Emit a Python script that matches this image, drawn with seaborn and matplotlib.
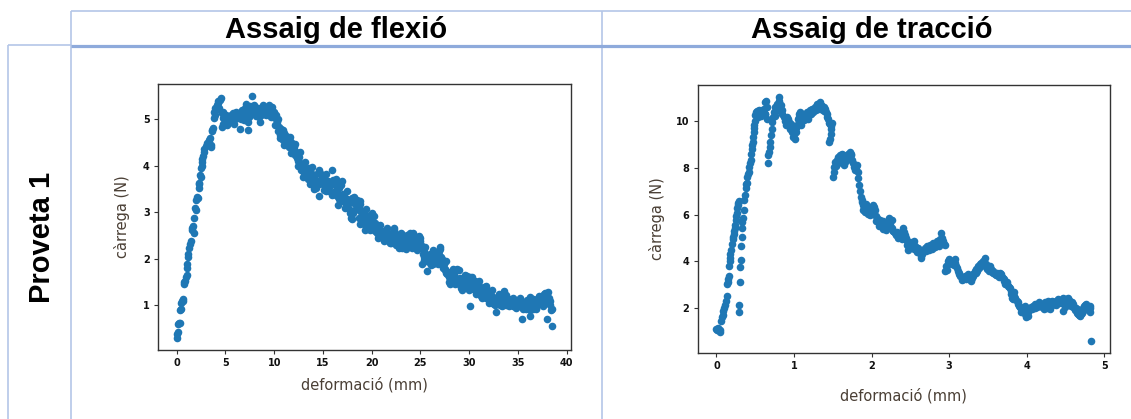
import matplotlib
matplotlib.use("Agg")
import matplotlib.pyplot as plt
from matplotlib.lines import Line2D
import seaborn as sns
import pandas as pd

# ---------------- data ----------------
XLABEL = "deformació (mm)"
YLABEL = "càrrega (N)"
col_titles = ["Assaig de flexió", "Assaig de tracció"]
row_title = "Proveta 1"

flex_rise = [(0.0,0.30),(0.05,0.38),(0.1,0.42),(0.12,0.60),(0.2,0.61),(0.3,0.62),(0.35,0.89),(0.4,0.92),(0.45,1.05),(0.5,1.10),(0.6,1.14),(0.65,1.10),(0.7,1.47),(0.78,1.50),(0.86,1.53),(0.96,1.60),(1.0,1.65),(1.03,1.81),(1.1,1.9),(1.13,2.03),(1.2,2.1),(1.27,2.24),(1.37,2.33),(1.44,2.38),(1.54,2.67),(1.6,2.63),(1.71,2.70),(1.75,2.55),(1.78,2.88),(1.88,3.10),(1.95,3.05),(1.99,3.27),(2.12,3.33),(2.2,3.30),(2.23,3.52),(2.3,3.6),(2.33,3.63),(2.40,3.81),(2.45,3.75),(2.50,3.95),(2.55,4.0),(2.57,4.09),(2.62,4.15),(2.67,4.22),(2.75,4.30),(2.84,4.37),(3.01,4.42),(3.1,4.5),(3.25,4.49),(3.30,4.56),(3.36,4.59),(3.49,4.45),(3.55,4.40),(3.6,4.74),(3.65,4.78),(3.70,4.81),(3.77,5.02),(3.84,5.16),(3.9,5.10),(3.94,5.24),(4.0,5.20),(4.11,5.31),(4.2,5.35),(4.28,5.39),(4.38,5.24),(4.45,5.42),(4.52,5.45),(4.62,5.13),(4.62,4.84),(4.7,5.15),(4.79,5.02),(4.79,4.89),(4.97,4.99)]
flex_plateau = [(5.05,5.10),(5.14,4.88),(5.2,4.95),(5.31,5.06),(5.4,4.98),(5.48,4.95),(5.55,5.10),(5.65,5.02),(5.75,4.95),(5.82,5.13),(5.89,4.91),(5.95,5.05),(6.10,5.16),(6.15,5.02),(6.23,5.02),(6.30,5.12),(6.44,4.79),(6.51,5.09),(6.6,5.00),(6.68,5.20),(6.75,5.12),(6.85,5.06),(6.9,4.98),(7.02,5.24),(7.08,5.10),(7.12,5.34),(7.2,5.18),(7.26,4.95),(7.36,4.77),(7.4,5.05),(7.47,5.16),(7.55,5.28),(7.7,5.50),(7.71,5.27),(7.8,5.20),(7.88,5.13),(7.95,5.30),(8.05,5.24),(8.1,5.08),(8.22,5.16),(8.3,5.25),(8.39,5.06),(8.45,5.15),(8.56,4.95),(8.65,5.10),(8.73,5.20),(8.8,5.12),(8.9,5.31),(9.0,5.18),(9.08,5.24),(9.15,5.10),(9.25,5.13),(9.35,5.22),(9.42,5.31),(9.5,5.15),(9.59,5.20),(9.65,5.05),(9.76,5.27),(9.85,5.12),(9.93,5.16),(10.03,5.02),(10.10,4.88),(10.15,5.10),(10.27,4.95),(10.34,4.74),(10.40,5.00)]
flex_decline = [(10.45,4.84),(10.55,4.60),(10.62,4.66),(10.7,4.80),(10.79,4.74),(10.85,4.55),(10.96,4.59),(11.05,4.70),(11.13,4.66),(11.2,4.50),(11.3,4.52),(11.4,4.62),(11.47,4.56),(11.55,4.40),(11.64,4.45),(11.72,4.52),(11.81,4.42),(11.9,4.30),(11.99,4.34),(12.08,4.40),(12.16,4.24),(12.25,4.30),(12.33,4.17),(12.42,4.10),(12.5,4.09),(12.58,4.18),(12.67,4.02),(12.75,3.90),(12.84,3.99),(12.92,4.05),(13.01,3.92),(13.1,3.85),(13.18,3.95),(13.25,3.80),(13.36,3.84),(13.45,3.72),(13.53,3.87),(13.6,3.95),(13.7,3.77),(13.8,3.85),(13.87,3.70),(13.95,3.80),(14.04,3.74),(14.1,3.50),(14.21,3.81),(14.32,3.52),(14.38,3.67),(14.45,3.85),(14.55,3.60),(14.6,3.36),(14.73,3.84),(14.8,3.70),(14.9,3.74),(15.0,3.62),(15.07,3.60),(15.15,3.75),(15.24,3.63),(15.3,3.45),(15.41,3.52),(15.5,3.68),(15.58,3.45),(15.65,3.55),(15.75,3.60),(15.92,3.90),(16.0,3.70),(16.10,3.60),(16.2,3.40),(16.27,3.45),(16.35,3.58),(16.44,3.35),(16.5,3.15),(16.61,3.52),(16.7,3.62),(16.78,3.38),(16.85,3.25),(16.95,3.67),(17.05,3.40),(17.12,3.24),(17.2,3.35),(17.29,3.31),(17.4,3.15),(17.5,3.28),(17.64,3.20),(17.72,3.08),(17.81,2.99),(17.9,2.88),(17.98,3.31),(17.98,2.85)]
flex_mid = [(18.15,3.20),(18.25,3.05),(18.35,3.15),(18.49,3.27),(18.55,3.10),(18.66,3.10),(18.77,2.74),(18.84,3.17),(18.92,3.00),(19.01,3.02),(19.1,2.90),(19.18,2.74),(19.25,2.85),(19.35,2.63),(19.45,2.95),(19.52,2.81),(19.6,2.70),(19.69,2.74),(19.8,2.62),(19.86,2.88),(20.03,2.99),(20.1,2.80),(20.21,2.70),(20.3,2.78),(20.38,2.60),(20.45,2.68),(20.55,2.56),(20.7,2.62),(20.8,2.48),(20.89,2.49),(21.0,2.55),(21.06,2.60),(21.15,2.48),(21.23,2.42),(21.3,2.55),(21.4,2.53),(21.5,2.40),(21.58,2.45),(21.65,2.55),(21.75,2.49),(21.85,2.35),(21.92,2.42),(22.0,2.50),(22.09,2.56),(22.2,2.45),(22.26,2.67),(22.35,2.55),(22.43,2.38),(22.5,2.30),(22.6,2.49),(22.7,2.35),(22.77,2.42),(22.85,2.50),(22.95,2.31),(23.05,2.40),(23.12,2.24),(23.2,2.30),(23.29,2.35),(23.38,2.28),(23.46,2.45),(23.55,2.30),(23.63,2.42),(23.72,2.35),(23.8,2.49),(23.9,2.38),(23.97,2.56),(24.05,2.45),(24.14,2.38),(24.25,2.30),(24.32,2.49),(24.4,2.42),(24.49,2.35),(24.57,2.28),(24.66,2.38),(24.75,2.46),(24.83,2.31),(24.92,2.38),(25.0,2.45),(25.08,2.30),(25.17,2.24),(25.17,1.88),(25.25,2.10),(25.34,2.17),(25.42,2.05),(25.51,2.06),(25.6,1.95),(25.68,1.74),(25.78,2.00),(25.86,2.03),(25.95,1.92),(26.03,2.10),(26.12,2.00),(26.2,1.96),(26.28,1.88),(26.37,2.06),(26.45,1.95),(26.54,2.03),(26.62,2.15),(26.71,2.13),(26.8,2.02),(26.88,2.17),(26.95,2.08),(27.05,2.21),(27.15,2.05),(27.23,1.99),(27.3,1.85),(27.4,1.88),(27.5,1.75),(27.57,1.78),(27.65,1.70),(27.74,1.67),(27.82,1.72),(27.91,1.60)]
flex_tail = [(28.0,1.52),(28.08,1.46),(28.15,1.55),(28.25,1.63),(28.35,1.50),(28.42,1.60),(28.5,1.68),(28.6,1.74),(28.68,1.58),(28.77,1.78),(28.85,1.55),(28.94,1.46),(29.02,1.58),(29.11,1.53),(29.2,1.38),(29.28,1.42),(29.36,1.55),(29.45,1.56),(29.55,1.40),(29.62,1.49),(29.7,1.58),(29.79,1.63),(29.88,1.45),(29.96,1.53),(30.05,1.60),(30.14,0.99),(30.22,1.52),(30.31,1.46),(30.4,1.35),(30.48,1.39),(30.56,1.52),(30.65,1.49),(30.73,1.40),(30.82,1.35),(30.9,1.28),(30.99,1.42),(31.08,1.30),(31.16,1.31),(31.25,1.20),(31.34,1.24),(31.42,1.35),(31.51,1.39),(31.6,1.22),(31.68,1.28),(31.77,1.15),(31.85,1.17),(31.94,1.30),(32.02,1.24),(32.1,1.12),(32.19,1.14),(32.28,1.22),(32.36,1.06),(32.45,1.15),(32.53,1.03),(32.62,1.12),(32.71,0.85),(32.8,1.05),(32.88,1.17),(32.96,1.08),(33.05,1.10),(33.13,1.00),(33.22,1.03),(33.3,1.20),(33.39,1.14),(33.48,1.05),(33.56,1.31),(33.65,1.10),(33.73,1.17),(33.82,1.00),(33.9,1.06),(34.0,1.12),(34.08,1.14),(34.16,1.02),(34.25,1.03),(34.33,1.12),(34.42,1.10),(34.5,0.98),(34.59,1.06),(34.68,1.12),(34.76,1.03),(34.85,0.96),(34.93,1.10),(35.02,1.00),(35.1,1.06),(35.18,1.12),(35.27,1.03),(35.38,0.71),(35.46,1.05),(35.55,0.96),(35.65,1.08),(35.79,1.03),(35.88,0.92),(35.96,0.99),(36.05,1.08),(36.15,0.95),(36.23,0.78),(36.30,1.17),(36.4,1.00),(36.47,1.06),(36.55,0.92),(36.64,0.96),(36.73,1.08),(36.82,1.03),(36.9,0.95),(36.99,1.14),(37.08,1.02),(37.16,1.10),(37.25,1.05),(37.33,1.17),(37.42,1.08),(37.5,1.21),(37.58,1.12),(37.67,1.24),(37.75,1.10),(37.84,1.17),(37.92,1.22),(38.01,0.71),(38.12,1.28),(38.2,1.15),(38.29,1.10),(38.35,1.00),(38.42,0.89),(38.5,0.92),(38.53,0.56)]
flex_band_upper = [(10.9,4.78),(11.6,4.62),(12.1,4.48),(12.6,4.30),(13.2,4.08),(13.9,3.97),(14.6,3.92),(15.3,3.82),(16.3,3.72),(16.9,3.58),(17.5,3.45),(18.2,3.34),(18.8,3.25),(19.4,3.08),(20.2,2.92),(20.9,2.72),(21.6,2.66),(22.3,2.62),(23.0,2.55),(23.6,2.52),(24.2,2.55),(24.9,2.50),(25.5,2.25),(26.3,2.18),(27.0,2.25),(27.6,1.95),(28.3,1.78),(29.0,1.75),(29.6,1.66),(30.3,1.60),(31.0,1.52),(31.7,1.42),(32.4,1.32),(33.1,1.25),(33.8,1.22),(34.5,1.16),(35.2,1.15),(35.9,1.12),(36.6,1.14),(37.2,1.20),(37.8,1.26)]
flex_band_lower = [(11.0,4.45),(11.7,4.28),(12.4,4.00),(13.0,3.76),(13.7,3.62),(14.3,3.58),(15.1,3.48),(15.9,3.38),(16.6,3.28),(17.3,3.10),(18.1,2.98),(18.7,2.88),(19.3,2.78),(20.0,2.64),(20.6,2.44),(21.3,2.38),(22.0,2.34),(22.8,2.24),(23.5,2.22),(24.1,2.24),(24.7,2.20),(25.4,1.98),(26.1,1.86),(26.8,1.90),(27.3,1.80),(27.9,1.50),(28.6,1.45),(29.3,1.34),(30.0,1.32),(30.7,1.25),(31.3,1.16),(32.0,1.06),(32.7,1.00),(33.4,0.98),(34.1,0.98),(34.8,0.94),(35.5,0.92),(36.2,0.90),(36.9,0.92),(37.6,0.98)]

trac_load1 = [(0.0,1.11),(0.01,1.04),(0.02,1.15),(0.03,1.04),(0.04,1.08),(0.05,0.96),(0.06,1.43),(0.07,1.60),(0.08,1.70),(0.09,1.89),(0.10,2.00),(0.11,2.15),(0.12,2.31),(0.13,2.52),(0.14,3.02),(0.145,3.13),(0.15,3.25),(0.16,3.38),(0.16,3.80),(0.17,4.01),(0.175,4.15),(0.18,4.33),(0.19,4.48),(0.20,4.75),(0.21,4.94),(0.215,5.05),(0.22,5.18),(0.23,5.29),(0.235,5.45),(0.24,5.57),(0.25,5.79),(0.255,5.95),(0.265,6.07),(0.27,6.28),(0.275,6.40),(0.28,6.50),(0.285,6.60)]
trac_load2 = [(0.285,1.82),(0.287,2.13),(0.30,3.10),(0.31,3.76),(0.317,4.07),(0.32,4.65),(0.325,5.04),(0.33,5.43),(0.335,5.70),(0.34,5.86),(0.35,6.21),(0.36,6.64),(0.37,6.85),(0.38,7.13),(0.385,7.30),(0.39,7.35),(0.40,7.63),(0.41,7.75),(0.42,7.82),(0.42,8.06),(0.43,8.20),(0.44,8.34),(0.45,8.62),(0.455,8.84),(0.46,9.00),(0.465,9.12),(0.47,9.33),(0.48,9.55),(0.485,9.70),(0.49,9.83),(0.50,10.04),(0.50,10.26),(0.51,10.40),(0.52,10.43),(0.53,10.30),(0.54,10.18),(0.55,10.50),(0.57,10.33),(0.58,10.25),(0.59,10.47),(0.60,10.38),(0.61,10.54),(0.62,10.30),(0.63,10.82),(0.64,10.89),(0.63,10.33),(0.65,10.11),(0.65,10.60)]
trac_peak = [(0.66,8.20),(0.67,8.55),(0.68,8.70),(0.69,8.91),(0.69,9.12),(0.70,9.40),(0.71,9.69),(0.72,9.97),(0.73,10.18),(0.74,10.40),(0.75,10.25),(0.76,10.61),(0.77,10.45),(0.78,10.75),(0.79,10.60),(0.80,10.89),(0.81,11.04),(0.82,10.54),(0.83,10.70),(0.84,10.33),(0.85,10.50),(0.87,10.18),(0.88,10.00),(0.89,10.04),(0.90,9.83),(0.91,10.20),(0.92,10.11),(0.93,9.97),(0.94,9.80),(0.95,9.69),(0.96,9.90),(0.97,9.55),(0.98,9.75),(0.99,9.33),(1.00,9.45),(1.01,9.26),(1.02,9.55),(1.03,9.70),(1.04,9.83),(1.05,10.11),(1.06,10.33),(1.07,10.20),(1.08,10.40),(1.08,9.97),(1.09,9.85),(1.10,10.11),(1.11,10.25),(1.12,10.33),(1.13,10.05),(1.14,10.18),(1.15,10.30),(1.17,10.40),(1.18,10.10),(1.19,10.26),(1.20,10.35),(1.21,10.47),(1.22,10.30),(1.23,10.54),(1.24,10.45),(1.25,10.40),(1.26,10.55),(1.27,10.61),(1.28,10.50),(1.29,10.75),(1.30,10.62),(1.32,10.68),(1.33,10.55),(1.34,10.82),(1.35,10.70),(1.36,10.68),(1.37,10.50),(1.38,10.61),(1.39,10.45),(1.40,10.54),(1.41,10.40),(1.42,10.33),(1.43,10.20),(1.44,10.11),(1.45,9.95),(1.46,9.90),(1.47,9.69),(1.47,9.48),(1.46,9.26),(1.45,9.10),(1.48,9.80),(1.49,9.95)]
trac_drop = [(1.50,7.63),(1.51,7.84),(1.52,8.06),(1.53,8.27),(1.54,8.10),(1.55,8.34),(1.56,8.20),(1.57,8.48),(1.58,8.30),(1.59,8.55),(1.60,8.40),(1.62,8.62),(1.63,8.50),(1.64,8.48),(1.65,8.13),(1.66,8.41),(1.67,8.30),(1.68,8.55),(1.69,8.45),(1.70,8.62),(1.71,8.50),(1.72,8.70),(1.73,8.60),(1.74,8.55),(1.75,8.35),(1.76,8.20),(1.77,8.06),(1.78,7.90),(1.79,7.99),(1.80,8.05),(1.81,8.13),(1.82,7.84),(1.83,7.56),(1.84,7.28),(1.85,7.00),(1.86,6.78),(1.87,6.64),(1.88,6.55),(1.89,6.43),(1.89,6.21),(1.90,6.30),(1.91,6.14),(1.92,6.35),(1.93,6.45),(1.94,6.28),(1.95,6.05),(1.96,6.14),(1.97,6.25),(1.98,6.00),(1.99,6.20),(2.00,6.07),(2.01,6.30),(2.02,6.43),(2.03,6.35),(2.04,6.21),(2.05,5.95),(2.06,5.72),(2.07,5.86),(2.08,5.75),(2.09,5.65),(2.10,5.50),(2.11,5.79),(2.12,5.60),(2.13,5.57),(2.14,5.40),(2.15,5.72),(2.16,5.55),(2.17,5.50),(2.18,5.35),(2.19,5.57),(2.20,5.45),(2.22,5.86),(2.23,5.65),(2.24,5.57),(2.25,5.45),(2.26,5.43),(2.26,5.79),(2.27,5.30),(2.28,5.29),(2.30,5.22),(2.32,5.15),(2.33,5.25),(2.34,5.01),(2.36,5.08),(2.37,5.20),(2.39,4.94),(2.40,5.10),(2.41,5.43),(2.42,5.25),(2.43,5.15),(2.44,5.00),(2.45,4.87),(2.46,4.70),(2.47,4.51),(2.48,4.60),(2.49,4.72),(2.50,4.85),(2.52,4.79),(2.53,4.65),(2.54,4.87),(2.55,4.55),(2.56,4.65),(2.58,4.51),(2.59,4.40),(2.60,4.58),(2.61,4.45),(2.62,4.37),(2.63,4.25),(2.64,4.16),(2.65,4.30),(2.66,4.44),(2.68,4.50),(2.69,4.58),(2.70,4.45),(2.71,4.65),(2.72,4.52),(2.73,4.58),(2.74,4.48),(2.75,4.72),(2.76,4.60),(2.77,4.65),(2.78,4.55),(2.79,4.79),(2.80,4.62),(2.81,4.72),(2.82,4.60),(2.84,4.87),(2.85,4.70),(2.86,4.79),(2.87,4.68),(2.88,4.94),(2.89,4.80),(2.90,5.22),(2.91,5.00),(2.92,4.87),(2.93,4.75),(2.94,4.72)]
trac_tail = [(2.95,3.59),(2.96,3.80),(2.97,3.65),(2.98,4.01),(2.99,3.90),(3.00,4.09),(3.01,3.95),(3.03,3.87),(3.04,3.95),(3.05,4.01),(3.06,3.85),(3.07,4.09),(3.08,3.95),(3.09,3.80),(3.10,3.70),(3.11,3.59),(3.12,3.52),(3.13,3.45),(3.14,3.38),(3.16,3.30),(3.17,3.20),(3.18,3.23),(3.19,3.30),(3.20,3.38),(3.21,3.25),(3.22,3.30),(3.23,3.38),(3.24,3.45),(3.25,3.30),(3.26,3.23),(3.28,3.15),(3.29,3.30),(3.30,3.38),(3.31,3.45),(3.32,3.52),(3.33,3.59),(3.34,3.50),(3.35,3.66),(3.36,3.60),(3.37,3.80),(3.38,3.70),(3.39,3.87),(3.40,3.80),(3.41,3.94),(3.42,3.85),(3.44,4.01),(3.45,3.90),(3.46,4.16),(3.47,3.87),(3.48,3.75),(3.49,3.66),(3.50,3.73),(3.51,3.60),(3.52,3.80),(3.53,3.70),(3.54,3.66),(3.55,3.55),(3.56,3.52),(3.57,3.60),(3.59,3.45),(3.60,3.40),(3.61,3.52),(3.62,3.40),(3.63,3.45),(3.64,3.35),(3.65,3.38),(3.66,3.50),(3.67,3.45),(3.68,3.35),(3.69,3.30),(3.70,3.25),(3.71,3.16),(3.72,3.05),(3.74,3.02),(3.75,3.10),(3.76,2.95),(3.77,2.90),(3.78,2.88),(3.79,2.75),(3.80,2.60),(3.81,2.45),(3.82,2.38),(3.83,2.50),(3.84,2.67),(3.85,2.45),(3.87,2.31),(3.88,2.25),(3.89,2.17),(3.90,2.10),(3.91,2.03),(3.92,1.95),(3.93,1.82),(3.94,1.90),(3.95,1.89),(3.96,2.00),(3.97,2.10),(3.98,1.75),(3.99,1.60),(4.00,1.70),(4.01,1.82),(4.02,1.65),(4.03,1.90),(4.04,1.96),(4.05,2.05),(4.06,2.03),(4.07,1.95),(4.08,2.10),(4.09,2.05),(4.10,2.17),(4.11,2.00),(4.12,2.10),(4.13,2.05),(4.14,2.17),(4.15,2.10),(4.16,2.24),(4.17,2.12),(4.19,2.17),(4.20,2.05),(4.21,2.10),(4.22,1.98),(4.23,2.24),(4.24,2.10),(4.25,2.17),(4.26,2.00),(4.27,2.31),(4.28,2.20),(4.29,2.10),(4.30,1.98),(4.31,2.24),(4.32,2.15),(4.33,2.31),(4.34,2.20),(4.36,2.24),(4.37,2.15),(4.38,2.31),(4.39,2.22),(4.40,2.38),(4.41,2.20),(4.42,2.24),(4.43,2.30),(4.44,2.31),(4.45,2.20),(4.46,2.45),(4.47,1.89),(4.48,2.17),(4.49,2.05),(4.50,2.30),(4.51,2.38),(4.52,2.25),(4.53,2.45),(4.54,2.35),(4.55,2.24),(4.56,2.15),(4.57,2.10),(4.58,2.25),(4.59,2.17),(4.60,2.05),(4.61,2.03),(4.62,1.90),(4.63,2.00),(4.64,1.96),(4.65,1.80),(4.66,1.74),(4.67,1.70),(4.68,1.67),(4.69,1.72),(4.70,1.74),(4.71,1.80),(4.72,1.89),(4.73,2.00),(4.74,2.10),(4.75,2.15),(4.76,2.17),(4.77,2.05),(4.78,2.10),(4.79,2.03),(4.80,1.90),(4.81,1.82),(4.82,2.10),(4.82,2.00),(4.83,0.61)]

flex_xticks = [0, 5, 10, 15, 20, 25, 30, 35, 40]
flex_yticks = [1, 2, 3, 4, 5]
trac_xticks = [0, 1, 2, 3, 4, 5]
trac_yticks = [2, 4, 6, 8, 10]

# ---------------- styling ----------------
sns.set_theme(style="ticks")
plt.rcParams['font.family'] = ['DejaVu Sans']

W, H = 1131, 419
fig = plt.figure(figsize=(W / 100, H / 100), dpi=100)
fig.patch.set_facecolor("white")

def rect(l, t, r, b):
    return [l / W, 1 - b / H, (r - l) / W, (b - t) / H]

def to_df(*segments):
    pts = [p for seg in segments for p in seg]
    return pd.DataFrame(pts, columns=[XLABEL, YLABEL])

df_flex = to_df(flex_rise, flex_plateau, flex_decline, flex_band_upper,
                flex_band_lower, flex_mid, flex_tail)
df_trac = to_df(trac_load1, trac_load2, trac_peak, trac_drop, trac_tail)

ax1 = fig.add_axes(rect(158, 84, 571, 350))
ax2 = fig.add_axes(rect(697.7, 85, 1110, 352.7))

LABEL_COLOR = "#4a3f35"
for ax, df, xt, yt, xpad, ypad in [(ax1, df_flex, flex_xticks, flex_yticks, 6, 9),
                                   (ax2, df_trac, trac_xticks, trac_yticks, 12, 7.5)]:
    sns.scatterplot(data=df, x=XLABEL, y=YLABEL, ax=ax, s=30,
                    color="#1f77b4", linewidth=0, legend=False)
    ax.set_xticks(xt)
    ax.set_yticks(yt)
    ax.tick_params(axis="both", length=3, width=0.8, color="#333333",
                   pad=3, labelsize=7, labelcolor="#111111")
    for lab in ax.get_xticklabels() + ax.get_yticklabels():
        lab.set_fontweight("bold")
    for sp in ax.spines.values():
        sp.set_visible(True)
        sp.set_color("#333333")
        sp.set_linewidth(1.0)
    ax.set_xlabel(XLABEL, fontsize=10.5, color=LABEL_COLOR, labelpad=xpad)
    ax.set_ylabel(YLABEL, fontsize=10.5, color=LABEL_COLOR, labelpad=ypad)
    ax.set_facecolor("white")

# ---------------- table frame ----------------
LIGHT = "#b4c6e7"
DARK = "#8eaadb"

def line(x0, y0, x1, y1, color, lw):
    fig.add_artist(Line2D([x0 / W, x1 / W], [1 - y0 / H, 1 - y1 / H],
                          transform=fig.transFigure, color=color, lw=lw,
                          solid_capstyle="butt"))

line(70.7, 11, W, 11, LIGHT, 1.2)
line(8, 44.7, 70.7, 44.7, LIGHT, 1.2)
line(70.7, 11, 70.7, H, LIGHT, 1.2)
line(601.7, 11, 601.7, H, LIGHT, 1.2)
line(8, 44.7, 8, H, LIGHT, 1.2)
line(70.7, 46.5, W, 46.5, DARK, 2.3)

fig.text(336 / W, 1 - 37.5 / H, col_titles[0], ha="center", va="baseline",
         fontsize=21, fontweight="bold", family="Liberation Sans", color="black")
fig.text(871.5 / W, 1 - 37.5 / H, col_titles[1], ha="center", va="baseline",
         fontsize=21, fontweight="bold", family="Liberation Sans", color="black")
fig.text(50 / W, 1 - 237 / H, row_title, ha="center", va="baseline",
         rotation=90, rotation_mode="anchor",
         fontsize=21, fontweight="bold", family="Liberation Sans", color="black")

fig.savefig("out.png", dpi=100, facecolor="white")
